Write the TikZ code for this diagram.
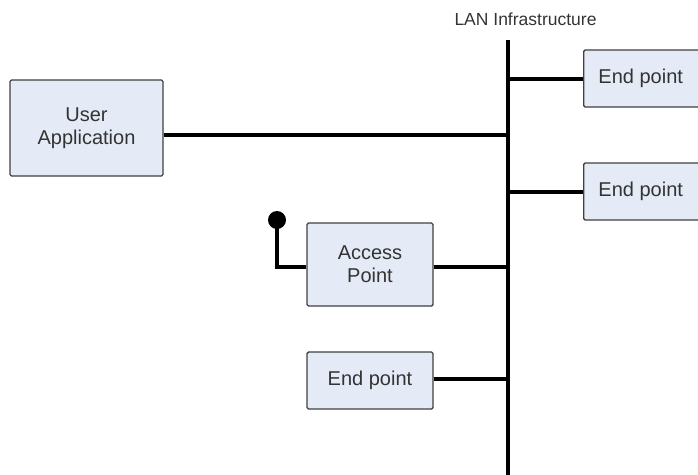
\documentclass[tikz,border=0pt]{standalone}
\usepackage{fontspec}
\setmainfont{Liberation Sans}
\begin{document}
\begin{tikzpicture}[x=1pt,y=-1pt,
  box/.style={draw=black!75, line width=1.4pt, fill=boxfill, rounded corners=1.5pt, align=center, inner sep=0pt,
    font=\fontsize{20}{23}\selectfont, text=black!80},
  wire/.style={line width=4pt, black},
]
\definecolor{boxfill}{HTML}{E4EBF7}
\useasboundingbox (0,0) rectangle (698,474);
% boxes
\node[box, minimum width=153pt, minimum height=96pt] (ua) at (86.5,128) {User\\Application};
\node[box, minimum width=126pt, minimum height=83pt] (ap) at (370,264.5) {Access\\Point};
\node[box, minimum width=126pt, minimum height=57pt] (ep3) at (370,380.5) {End point};
\node[box, minimum width=120pt, minimum height=57pt, anchor=west] (ep1) at (583,78.5) {\hspace*{-6pt}End point};
\node[box, minimum width=120pt, minimum height=57pt, anchor=west] (ep2) at (583,191.5) {\hspace*{-6pt}End point};
% bus
\coordinate (bt) at (508,40);
\coordinate (bb) at (508,476);
\node[font=\fontsize{17.5}{20}\selectfont, text=black!80] (lan) at (525.5,19) {LAN Infrastructure};
\draw[wire] (bt) -- (bb);
\coordinate (j1) at (508,79);
\coordinate (j2) at (508,192);
\coordinate (j0) at (508,135);
\coordinate (j3) at (508,267);
\coordinate (j4) at (508,379);
\draw[wire] (j1) -- (ep1.west |- j1);
\draw[wire] (j2) -- (ep2.west |- j2);
\draw[wire] (ua.east |- j0) -- (j0);
\draw[wire] (ap.east |- j3) -- (j3);
\draw[wire] (ep3.east |- j4) -- (j4);
% antenna
\coordinate (ant) at (277,220);
\draw[wire] (ap.west |- j3) -- (277,267) -- (ant);
\fill (ant) circle (9pt);
\end{tikzpicture}
\end{document}
